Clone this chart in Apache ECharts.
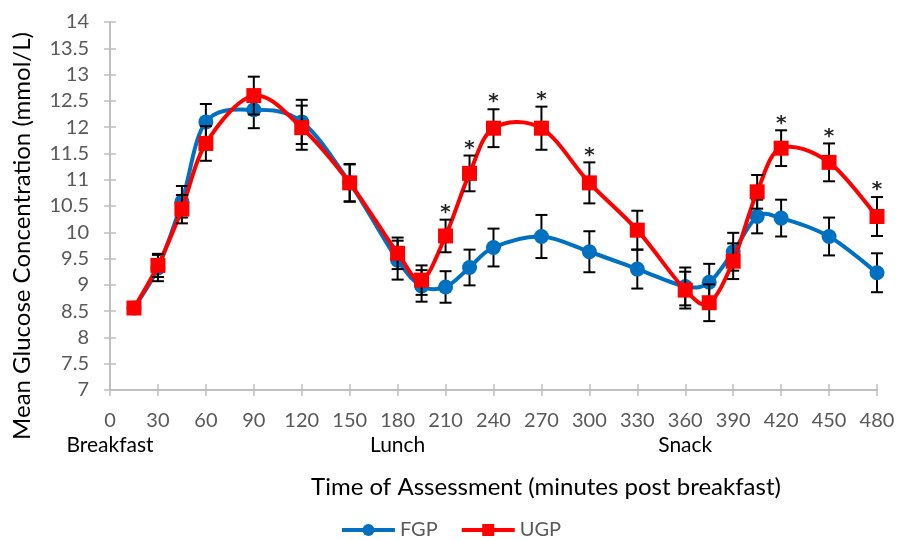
<!DOCTYPE html>
<html>
<head>
<meta charset="utf-8">
<script src="https://cdn.jsdelivr.net/npm/echarts@6/dist/echarts.min.js"></script>
<style>
  html, body { margin: 0; padding: 0; background: #fff; }
  #chart { width: 901px; height: 540px; }
</style>
</head>
<body>
<div id="chart"></div>
<script>
// Sampling times (minutes after breakfast)
var times = [15, 30, 45, 60, 90, 120, 150, 180, 195, 210, 225, 240, 270, 300, 330, 360, 375, 390, 405, 420, 450, 480];
// Mean glucose (mmol/L) and error bars
var fgp    = [8.56, 9.32, 10.58, 12.10, 12.33, 12.10, 10.94, 9.47, 8.98, 8.96, 9.33, 9.71, 9.92, 9.63, 9.30, 8.97, 9.05, 9.63, 10.30, 10.27, 9.92, 9.23];
var fgpErr = [0, 0.25, 0.30, 0.34, 0.35, 0.42, 0.35, 0.37, 0.30, 0.30, 0.34, 0.36, 0.41, 0.39, 0.37, 0.36, 0.35, 0.36, 0.32, 0.35, 0.36, 0.37];
var ugp    = [8.56, 9.37, 10.44, 11.69, 12.60, 11.99, 10.94, 9.60, 9.09, 9.93, 11.12, 11.98, 11.98, 10.94, 10.04, 8.90, 8.66, 9.45, 10.77, 11.60, 11.33, 10.30];
var ugpErr = [0, 0.22, 0.27, 0.33, 0.36, 0.42, 0.36, 0.30, 0.28, 0.31, 0.34, 0.36, 0.41, 0.39, 0.37, 0.35, 0.35, 0.34, 0.32, 0.34, 0.36, 0.37];
// Times where the UGP difference is significant
var sigTimes = [210, 225, 240, 270, 300, 420, 450, 480];
// Meal annotations under the tick labels
var mealLabels = { 0: 'Breakfast', 180: 'Lunch', 360: 'Snack' };

var FONT = 'Lato, "Open Sans", sans-serif';
var AXIS_GRAY = '#bfbfbf';
var BLUE = '#0070c0';
var RED = '#ff0000';

function pairs(vals) {
  return times.map(function (t, i) { return [t, vals[i]]; });
}

function errData(vals, errs) {
  return times.map(function (t, i) {
    return [t, vals[i], errs[i], sigTimes.indexOf(t) >= 0 ? 1 : 0];
  });
}

// Smoothed curve through every point (Catmull-Rom segments as cubic Beziers)
function curveRenderer(vals, color) {
  return function (params, api) {
    if (params.dataIndex !== 0) return null;
    var pts = times.map(function (t, i) { return api.coord([t, vals[i]]); });
    var d = 'M' + pts[0][0] + ',' + pts[0][1];
    for (var i = 0; i < pts.length - 1; i++) {
      var p0 = pts[Math.max(i - 1, 0)];
      var p1 = pts[i];
      var p2 = pts[i + 1];
      var p3 = pts[Math.min(i + 2, pts.length - 1)];
      var c1x = p1[0] + (p2[0] - p0[0]) / 6, c1y = p1[1] + (p2[1] - p0[1]) / 6;
      var c2x = p2[0] - (p3[0] - p1[0]) / 6, c2y = p2[1] - (p3[1] - p1[1]) / 6;
      d += 'C' + c1x + ',' + c1y + ' ' + c2x + ',' + c2y + ' ' + p2[0] + ',' + p2[1];
    }
    return {
      type: 'path',
      shape: { pathData: d },
      style: { fill: null, stroke: color, lineWidth: 4, lineJoin: 'round', lineCap: 'round' }
    };
  };
}

function errorBarRenderer(withStars) {
  return function (params, api) {
    var x = api.value(0), y = api.value(1), e = api.value(2);
    if (!e) return null;
    var top = api.coord([x, y + e]);
    var bot = api.coord([x, y - e]);
    var half = 6;
    var style = { stroke: '#000', lineWidth: 2 };
    var children = [
      { type: 'line', shape: { x1: top[0], y1: top[1], x2: bot[0], y2: bot[1] }, style: style },
      { type: 'line', shape: { x1: top[0] - half, y1: top[1], x2: top[0] + half, y2: top[1] }, style: style },
      { type: 'line', shape: { x1: bot[0] - half, y1: bot[1], x2: bot[0] + half, y2: bot[1] }, style: style }
    ];
    if (withStars && api.value(3) === 1) {
      children.push({
        type: 'text',
        style: {
          text: '*', x: top[0], y: top[1] - 7,
          align: 'center', verticalAlign: 'middle',
          fill: '#262626', font: 'bold 20px "DejaVu Sans", sans-serif'
        }
      });
    }
    return { type: 'group', children: children };
  };
}

var chart = echarts.init(document.getElementById('chart'), null, { renderer: 'canvas' });

chart.setOption({
  animation: false,
  backgroundColor: '#fff',
  grid: { left: 110, right: 24, top: 22, bottom: 150, containLabel: false },
  legend: {
    top: 515,
    left: 'center',
    itemWidth: 53,
    itemHeight: 15,
    itemGap: 22,
    data: [
      { name: 'FGP', lineStyle: { color: BLUE, width: 4, opacity: 1 } },
      { name: 'UGP', lineStyle: { color: RED, width: 4, opacity: 1 } }
    ],
    textStyle: { fontFamily: FONT, fontSize: 20, color: '#595959' }
  },
  graphic: [
    {
      type: 'text', x: 546, y: 487,
      style: {
        text: 'Time of Assessment (minutes post breakfast)',
        align: 'center', verticalAlign: 'middle',
        font: '24px ' + FONT, fill: '#000'
      }
    },
    {
      type: 'text', x: 22, y: 236, rotation: Math.PI / 2,
      style: {
        text: 'Mean Glucose Concentration (mmol/L)',
        align: 'center', verticalAlign: 'middle',
        font: '24px ' + FONT, fill: '#000'
      }
    }
  ],
  xAxis: [{
    type: 'value',
    min: 0, max: 480, interval: 30,
    splitLine: { show: false },
    axisLine: { lineStyle: { color: AXIS_GRAY, width: 2 } },
    axisTick: { show: true, length: 6, lineStyle: { color: AXIS_GRAY, width: 1.5 } },
    axisLabel: {
      margin: 21,
      showMinLabel: true,
      showMaxLabel: true,
      fontFamily: FONT, fontSize: 20, color: '#595959'
    }
  }, {
    // inward half of the crossing tick marks
    type: 'value', position: 'bottom',
    min: 0, max: 480, interval: 30,
    splitLine: { show: false },
    axisLine: { show: false },
    axisLabel: { show: false },
    axisTick: { show: true, inside: true, length: 6, lineStyle: { color: AXIS_GRAY, width: 1.5 } }
  }, {
    // meal names under the time labels
    type: 'value', position: 'bottom',
    min: 0, max: 480, interval: 180,
    splitLine: { show: false },
    axisLine: { show: false },
    axisTick: { show: false },
    axisLabel: {
      margin: 45,
      showMinLabel: true,
      fontFamily: FONT, fontSize: 21, color: '#000',
      formatter: function (v) { return mealLabels[v] || ''; }
    }
  }],
  yAxis: [{
    type: 'value',
    min: 7, max: 14, interval: 0.5,
    splitLine: { show: false },
    axisLine: { show: true, lineStyle: { color: AXIS_GRAY, width: 2 } },
    axisTick: { show: true, length: 6, lineStyle: { color: AXIS_GRAY, width: 1.5 } },
    axisLabel: { margin: 21, showMinLabel: true, showMaxLabel: true, fontFamily: FONT, fontSize: 20, color: '#595959' }
  }, {
    type: 'value', position: 'left',
    min: 7, max: 14, interval: 0.5,
    splitLine: { show: false },
    axisLine: { show: false },
    axisLabel: { show: false },
    axisTick: { show: true, inside: true, length: 6, lineStyle: { color: AXIS_GRAY, width: 1.5 } }
  }],
  series: [
    {
      type: 'custom', name: 'FGP curve', renderItem: curveRenderer(fgp, BLUE),
      data: pairs(fgp), encode: { x: 0, y: 1 }, z: 1, silent: true
    },
    {
      type: 'custom', name: 'FGP err', renderItem: errorBarRenderer(false),
      data: errData(fgp, fgpErr), encode: { x: 0, y: 1 }, z: 2, silent: true
    },
    {
      type: 'line', name: 'FGP', data: pairs(fgp),
      symbol: 'circle', symbolSize: 15,
      lineStyle: { color: BLUE, width: 4, opacity: 0 },
      itemStyle: { color: BLUE },
      z: 3
    },
    {
      type: 'custom', name: 'UGP curve', renderItem: curveRenderer(ugp, RED),
      data: pairs(ugp), encode: { x: 0, y: 1 }, z: 4, silent: true
    },
    {
      type: 'custom', name: 'UGP err', renderItem: errorBarRenderer(true),
      data: errData(ugp, ugpErr), encode: { x: 0, y: 1 }, z: 5, silent: true
    },
    {
      type: 'line', name: 'UGP', data: pairs(ugp),
      symbol: 'rect', symbolSize: 15,
      lineStyle: { color: RED, width: 4, opacity: 0 },
      itemStyle: { color: RED },
      z: 6
    }
  ]
});
</script>
</body>
</html>
